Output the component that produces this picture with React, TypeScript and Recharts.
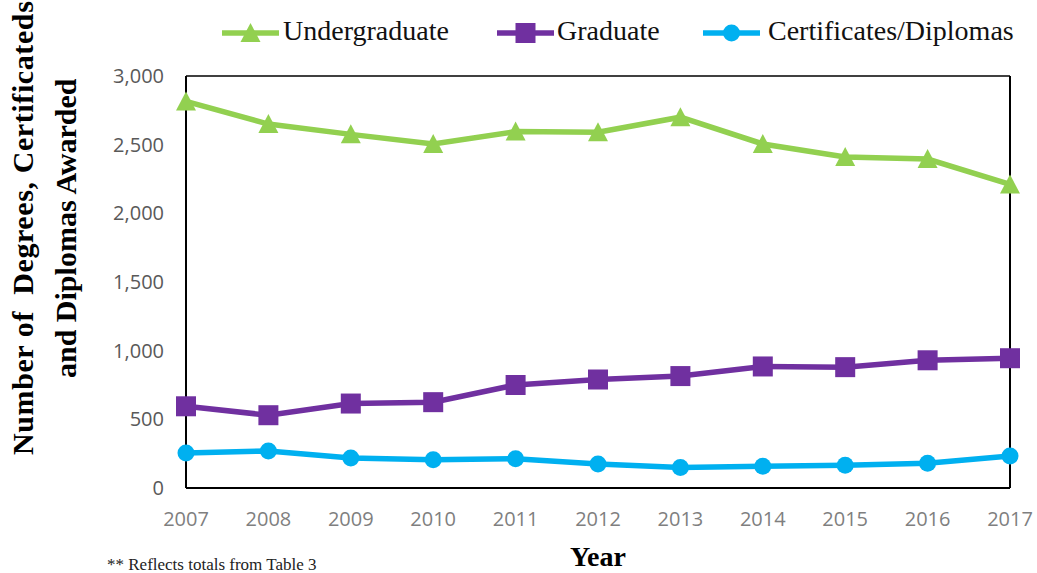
import React from "react";
import { LineChart, Line, XAxis, YAxis, CartesianGrid } from "recharts";

const years = ["2007", "2008", "2009", "2010", "2011", "2012", "2013", "2014", "2015", "2016", "2017"];
const undergraduate = [2815, 2650, 2575, 2505, 2595, 2590, 2700, 2505, 2410, 2395, 2210];
const graduate = [595, 530, 615, 625, 750, 790, 815, 885, 880, 930, 945];
const certificates = [255, 270, 218, 205, 213, 175, 150, 158, 165, 180, 233];
const yTicks = [0, 500, 1000, 1500, 2000, 2500, 3000];

const GREEN = "#92d050";
const PURPLE = "#7030a0";
const BLUE = "#00b0f0";

const data = years.map((year, i) => ({
  year,
  undergraduate: undergraduate[i],
  graduate: graduate[i],
  certificates: certificates[i],
}));

type Shape = "triangle" | "square" | "circle";

const Marker = ({ cx, cy, shape, color }: { cx: number; cy: number; shape: Shape; color: string }) => {
  if (cx == null || cy == null) return null;
  if (shape === "triangle")
    return <polygon points={`${cx},${cy - 10} ${cx - 10},${cy + 9} ${cx + 10},${cy + 9}`} fill={color} />;
  if (shape === "square") return <rect x={cx - 10} y={cy - 10} width={20} height={20} fill={color} />;
  return <circle cx={cx} cy={cy} r={8.5} fill={color} />;
};

const series: { key: string; name: string; color: string; shape: Shape; iconX: number; textX: number }[] = [
  { key: "undergraduate", name: "Undergraduate", color: GREEN, shape: "triangle", iconX: 222, textX: 283 },
  { key: "graduate", name: "Graduate", color: PURPLE, shape: "square", iconX: 497, textX: 557 },
  { key: "certificates", name: "Certificates/Diplomas", color: BLUE, shape: "circle", iconX: 703, textX: 768 },
];

const serif = "'Liberation Serif', 'Times New Roman', serif";
const sans = "'Open Sans', sans-serif";

export default function App() {
  return (
    <div style={{ position: "absolute", left: 0, top: 0, width: 1037, height: 573, background: "#fff", overflow: "hidden" }}>
      <LineChart
        width={1037}
        height={573}
        data={data}
        margin={{ top: 76, right: 26, bottom: 35, left: 106 }}
      >
        <CartesianGrid vertical={false} stroke="#000" strokeWidth={1.5} />
        <XAxis
          dataKey="year"
          padding={{ left: 0, right: 0 }}
          height={50}
          axisLine={{ stroke: "#000", strokeWidth: 2 }}
          tickLine={false}
          tickSize={0}
          tickMargin={24}
          tick={{ fill: "#7f7f7f", fontSize: 20, fontFamily: sans }}
          interval={0}
        />
        <YAxis
          yAxisId="left"
          domain={[0, 3000]}
          ticks={yTicks}
          width={80}
          axisLine={{ stroke: "#000", strokeWidth: 2 }}
          tickLine={false}
          tickSize={0}
          tickMargin={22}
          tick={{ fill: "#595959", fontSize: 20, fontFamily: sans }}
          tickFormatter={(v: number) => v.toLocaleString("en-US")}
        />
        <YAxis
          yAxisId="right"
          orientation="right"
          domain={[0, 3000]}
          width={1}
          axisLine={{ stroke: "#000", strokeWidth: 2 }}
          tick={false}
          tickLine={false}
        />
        {series.map((s) => (
          <Line
            key={s.key}
            yAxisId="left"
            type="linear"
            dataKey={s.key}
            name={s.name}
            stroke={s.color}
            strokeWidth={5.5}
            isAnimationActive={false}
            dot={(p: any) => <Marker key={`${s.key}-${p.index}`} cx={p.cx} cy={p.cy} shape={s.shape} color={s.color} />}
            activeDot={false}
          />
        ))}
      </LineChart>

      {/* legend */}
      <div style={{ position: "absolute", left: 0, top: 0, width: 1037, height: 60 }}>
        {series.map((s) => (
          <React.Fragment key={s.key}>
            <svg style={{ position: "absolute", left: s.iconX, top: 18 }} width={58} height={30}>
              <line x1={0} y1={15} x2={57} y2={15} stroke={s.color} strokeWidth={5.5} />
              <Marker cx={28.5} cy={15} shape={s.shape} color={s.color} />
            </svg>
            <span
              style={{
                position: "absolute",
                left: s.textX,
                top: 13,
                fontFamily: serif,
                fontSize: 28,
                lineHeight: "36px",
                color: "#111",
                whiteSpace: "nowrap",
              }}
            >
              {s.name}
            </span>
          </React.Fragment>
        ))}
      </div>

      {/* titles */}
      <svg style={{ position: "absolute", left: 0, top: 0 }} width={1037} height={573}>
        <text
          transform="translate(33,455) rotate(-90)"
          textAnchor="start"
          fontFamily={serif}
          fontWeight="bold"
          fontSize={30}
          letterSpacing={0.6}
          fill="#000"
        >
          Number of{"\u00a0\u00a0"}Degrees, Certificateds
        </text>
        <text
          transform="translate(76,378) rotate(-90)"
          textAnchor="start"
          fontFamily={serif}
          fontWeight="bold"
          fontSize={30}
          fill="#000"
        >
          and Diplomas Awarded
        </text>
        <text x={598} y={566} textAnchor="middle" fontFamily={serif} fontWeight="bold" fontSize={28} fill="#000">
          Year
        </text>
        <text x={107} y={570} fontFamily={serif} fontSize={17} fill="#222">
          ** Reflects totals from Table 3
        </text>
      </svg>
    </div>
  );
}
